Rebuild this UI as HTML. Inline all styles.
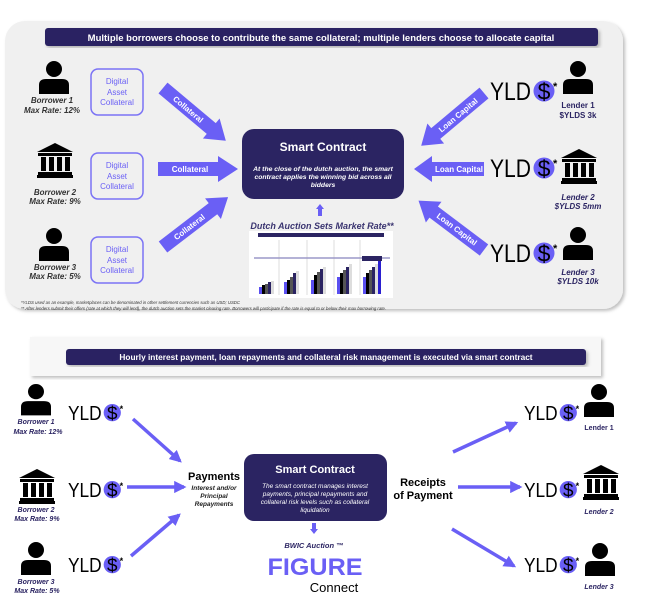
<!DOCTYPE html>
<html><head><meta charset="utf-8"><style>
html,body{margin:0;padding:0;background:#fff}
svg{display:block}
text{font-family:"Liberation Sans",sans-serif}
</style></head><body>
<svg width="659" height="595" viewBox="0 0 659 595" xmlns="http://www.w3.org/2000/svg">
<defs>
<filter id="sh" x="-5%" y="-5%" width="112%" height="115%"><feDropShadow dx="2" dy="2" stdDeviation="1.5" flood-color="#000" flood-opacity="0.25"/></filter>
<g id="person"><circle cx="15" cy="8" r="8" fill="#000"/><path d="M0,33 L0,24 Q0,18 7,18 L23,18 Q30,18 30,24 L30,33 Z" fill="#000"/></g>
<g id="bank"><polygon points="18,0 36,9 0,9" fill="#000"/><rect x="1" y="10" width="34" height="3" fill="#000"/><rect x="4" y="14" width="5" height="14" fill="#000"/><rect x="12" y="14" width="5" height="14" fill="#000"/><rect x="20" y="14" width="5" height="14" fill="#000"/><rect x="28" y="14" width="5" height="14" fill="#000"/><rect x="1" y="29" width="34" height="3" fill="#000"/><rect x="0" y="32" width="36" height="3" fill="#000"/></g>
<g id="yld"><text x="0" y="0" font-size="25" textLength="41" lengthAdjust="spacingAndGlyphs" fill="#000">YLD</text><circle cx="54" cy="-9" r="10.5" fill="#6a5ff5"/><text x="54" y="-0.5" font-size="23" text-anchor="middle" fill="#000">$</text><text x="63" y="-10" font-size="11" font-weight="bold" fill="#000">*</text></g>
<marker id="ah" viewBox="0 0 10 10" refX="8" refY="5" markerWidth="3.5" markerHeight="3.5" orient="auto"><path d="M0,0 L10,5 L0,10 Z" fill="#6a5ff5"/></marker>
</defs>

<!-- TOP PANEL -->
<rect x="5" y="21" width="618" height="288" rx="20" fill="#f0f0f0" filter="url(#sh)"/>
<rect x="45" y="28" width="553" height="18" rx="3" fill="#2b2462" filter="url(#sh)"/>
<text x="321" y="41" font-size="9.5" font-weight="bold" fill="#fff" text-anchor="middle">Multiple borrowers choose to contribute the same collateral; multiple lenders choose to allocate capital</text>

<use href="#person" x="39" y="61"/>
<text x="52" y="103" font-size="8" font-weight="bold" font-style="italic" fill="#333" text-anchor="middle">Borrower 1</text>
<text x="52" y="113" font-size="8" font-weight="bold" font-style="italic" fill="#333" text-anchor="middle">Max Rate: 12%</text>
<use href="#bank" x="37" y="143"/>
<text x="55" y="195" font-size="8" font-weight="bold" font-style="italic" fill="#333" text-anchor="middle">Borrower 2</text>
<text x="55" y="204" font-size="8" font-weight="bold" font-style="italic" fill="#333" text-anchor="middle">Max Rate: 9%</text>
<use href="#person" x="39" y="228"/>
<text x="55" y="270" font-size="8" font-weight="bold" font-style="italic" fill="#333" text-anchor="middle">Borrower 3</text>
<text x="55" y="279" font-size="8" font-weight="bold" font-style="italic" fill="#333" text-anchor="middle">Max Rate: 5%</text>

<g font-size="8" fill="#6a5ff5" text-anchor="middle">
<rect x="91" y="69" width="52" height="46" rx="7" fill="#f0f0f0" stroke="#7b73f5" stroke-width="1.5"/>
<text x="117" y="84">Digital</text><text x="117" y="95">Asset</text><text x="117" y="105">Collateral</text>
<rect x="91" y="153" width="52" height="46" rx="7" fill="#f0f0f0" stroke="#7b73f5" stroke-width="1.5"/>
<text x="117" y="168">Digital</text><text x="117" y="179">Asset</text><text x="117" y="189">Collateral</text>
<rect x="91" y="237" width="52" height="46" rx="7" fill="#f0f0f0" stroke="#7b73f5" stroke-width="1.5"/>
<text x="117" y="252">Digital</text><text x="117" y="263">Asset</text><text x="117" y="273">Collateral</text>
</g>

<g fill="#6a5ff5">
<g transform="translate(163,88) rotate(40)"><polygon points="0,-7 63,-7 63,-13 82,0 63,13 63,7 0,7"/><text x="33" y="3" font-size="8" font-weight="bold" fill="#fff" text-anchor="middle">Collateral</text></g>
<g transform="translate(158,169)"><polygon points="0,-7 60,-7 60,-13 80,0 60,13 60,7 0,7"/><text x="32" y="3" font-size="8" font-weight="bold" fill="#fff" text-anchor="middle">Collateral</text></g>
<g transform="translate(163,247) rotate(-37.5)"><polygon points="0,-7 63,-7 63,-13 82,0 63,13 63,7 0,7"/><text x="33" y="3" font-size="8" font-weight="bold" fill="#fff" text-anchor="middle">Collateral</text></g>
<g transform="translate(484,93) rotate(140)"><polygon points="0,-7 63,-7 63,-13 82,0 63,13 63,7 0,7"/></g>
<text transform="translate(458,115) rotate(-40)" x="0" y="3" font-size="8" font-weight="bold" fill="#fff" text-anchor="middle">Loan Capital</text>
<g transform="translate(484,169) rotate(180)"><polygon points="0,-7 52,-7 52,-13 70,0 52,13 52,7 0,7"/></g>
<text x="459" y="172" font-size="8" font-weight="bold" fill="#fff" text-anchor="middle">Loan Capital</text>
<g transform="translate(484,250) rotate(217)"><polygon points="0,-7 63,-7 63,-13 82,0 63,13 63,7 0,7"/></g>
<text transform="translate(457,229) rotate(37)" x="0" y="3" font-size="8" font-weight="bold" fill="#fff" text-anchor="middle">Loan Capital</text>
</g>

<rect x="242" y="129" width="162" height="70" rx="12" fill="#2b2462"/>
<text x="323" y="151" font-size="12" font-weight="bold" fill="#fff" text-anchor="middle">Smart Contract</text>
<g font-size="6.8" font-weight="bold" font-style="italic" fill="#fff" text-anchor="middle">
<text x="323" y="171">At the close of the dutch auction, the smart</text>
<text x="323" y="179">contract applies  the winning  bid across all</text>
<text x="323" y="187">bidders</text></g>
<polygon points="320,204 324,209 322,209 322,216 318,216 318,209 316,209" fill="#6a5ff5"/>
<text x="322" y="229" font-size="9" font-weight="bold" font-style="italic" fill="#3a3470" text-anchor="middle">Dutch Auction Sets Market Rate**</text>
<rect x="249" y="231" width="144" height="67" fill="#fff"/>
<rect x="258" y="233" width="126" height="4" fill="#2b2462"/>
<g stroke="#bbb" stroke-width="0.5"><line x1="279" y1="240" x2="279" y2="295"/><line x1="307" y1="240" x2="307" y2="295"/><line x1="334" y1="240" x2="334" y2="295"/><line x1="360" y1="240" x2="360" y2="295"/></g>
<line x1="254" y1="258" x2="390" y2="258" stroke="#9c98c8" stroke-width="1.5"/>
<g>
<rect x="259" y="287" width="3" height="7" fill="#5a4ff0"/><rect x="262" y="285" width="3" height="9" fill="#000"/><rect x="265" y="284" width="3" height="10" fill="#555"/><rect x="268" y="282" width="3" height="12" fill="#2b2462"/><rect x="271" y="281" width="3" height="13" fill="#ddd"/>
<rect x="284" y="282" width="3" height="12" fill="#5a4ff0"/><rect x="287" y="280" width="3" height="14" fill="#000"/><rect x="290" y="277" width="3" height="17" fill="#555"/><rect x="293" y="273" width="3" height="21" fill="#2b2462"/><rect x="296" y="271" width="3" height="23" fill="#ddd"/>
<rect x="311" y="280" width="3" height="14" fill="#5a4ff0"/><rect x="314" y="275" width="3" height="19" fill="#000"/><rect x="317" y="272" width="3" height="22" fill="#555"/><rect x="320" y="269" width="3" height="25" fill="#2b2462"/><rect x="323" y="267" width="3" height="27" fill="#ddd"/>
<rect x="337" y="277" width="3" height="17" fill="#5a4ff0"/><rect x="340" y="273" width="3" height="21" fill="#000"/><rect x="343" y="270" width="3" height="24" fill="#555"/><rect x="346" y="267" width="3" height="27" fill="#2b2462"/><rect x="349" y="264" width="3" height="30" fill="#ddd"/>
<rect x="363" y="277" width="3" height="17" fill="#5a4ff0"/><rect x="366" y="273" width="3" height="21" fill="#000"/><rect x="369" y="270" width="3" height="24" fill="#555"/><rect x="372" y="267" width="3" height="27" fill="#2b2462"/><rect x="375" y="264" width="3" height="30" fill="#ddd"/><rect x="378" y="258" width="3" height="36" fill="#2a1fd0"/>
<rect x="362" y="256" width="20" height="5" fill="#2b2462"/>
</g>
<text x="21" y="304" font-size="4.3" font-style="italic" fill="#333">*YLDS used as an example,  marketplaces  can be denominated  in other settlement  currencies such as USD; USDC</text>
<text x="21" y="310" font-size="4.3" font-style="italic" fill="#333">** After lenders submit their offers (rate at which they will lend), the dutch auction sets the market clearing rate. Borrowers will participate if the rate is equal to or below their max borrowing rate.</text>

<use href="#yld" x="490" y="100"/>
<use href="#person" x="563" y="61"/>
<text x="578" y="108" font-size="8" font-weight="bold" fill="#2b2462" text-anchor="middle">Lender 1</text>
<text x="578" y="118" font-size="8" font-weight="bold" fill="#2b2462" text-anchor="middle">$YLDS 3k</text>
<use href="#yld" x="490" y="177"/>
<use href="#bank" x="561" y="149"/>
<text x="578" y="200" font-size="8" font-weight="bold" font-style="italic" fill="#2b2462" text-anchor="middle">Lender 2</text>
<text x="578" y="209" font-size="8" font-weight="bold" font-style="italic" fill="#2b2462" text-anchor="middle">$YLDS 5mm</text>
<use href="#yld" x="490" y="262"/>
<use href="#person" x="563" y="227"/>
<text x="578" y="275" font-size="8" font-weight="bold" font-style="italic" fill="#2b2462" text-anchor="middle">Lender 3</text>
<text x="578" y="284" font-size="8" font-weight="bold" font-style="italic" fill="#2b2462" text-anchor="middle">$YLDS 10k</text>

<!-- BOTTOM -->
<rect x="30" y="337" width="571" height="39" fill="#f7f7f7" filter="url(#sh)"/>
<rect x="66" y="349" width="520" height="16" rx="3" fill="#2b2462" filter="url(#sh)"/>
<text x="326" y="360" font-size="8.3" font-weight="bold" fill="#fff" text-anchor="middle">Hourly interest payment, loan repayments and collateral risk management is executed via smart contract</text>

<g transform="translate(21,384) scale(1,0.95)"><use href="#person"/></g>
<text x="36" y="424" font-size="7" font-style="italic" font-weight="bold" fill="#2b2462" text-anchor="middle">Borrower 1</text>
<text x="38" y="434" font-size="7" font-style="italic" font-weight="bold" fill="#2b2462" text-anchor="middle">Max Rate: 12%</text>
<use href="#bank" x="19" y="469"/>
<text x="36" y="512" font-size="7" font-style="italic" font-weight="bold" fill="#2b2462" text-anchor="middle">Borrower 2</text>
<text x="37" y="521" font-size="7" font-style="italic" font-weight="bold" fill="#2b2462" text-anchor="middle">Max Rate: 9%</text>
<use href="#person" x="21" y="542"/>
<text x="36" y="584" font-size="7" font-style="italic" font-weight="bold" fill="#2b2462" text-anchor="middle">Borrower 3</text>
<text x="37" y="593" font-size="7" font-style="italic" font-weight="bold" fill="#2b2462" text-anchor="middle">Max Rate: 5%</text>

<g transform="translate(68,420) scale(0.82)"><use href="#yld"/></g>
<g transform="translate(68,497) scale(0.82)"><use href="#yld"/></g>
<g transform="translate(68,572) scale(0.82)"><use href="#yld"/></g>

<g stroke="#6a5ff5" stroke-width="3.5" marker-end="url(#ah)">
<line x1="133" y1="419" x2="180" y2="461"/>
<line x1="127" y1="487" x2="184" y2="487"/>
<line x1="131" y1="556" x2="179" y2="515"/>
<line x1="453" y1="452" x2="516" y2="423"/>
<line x1="458" y1="487" x2="520" y2="487"/>
<line x1="452" y1="529" x2="514" y2="566"/>
</g>

<text x="214" y="480" font-size="11" font-weight="bold" fill="#000" text-anchor="middle">Payments</text>
<g font-size="6.5" font-style="italic" font-weight="bold" fill="#222" text-anchor="middle">
<text x="214" y="490">Interest and/or</text><text x="214" y="498">Principal</text><text x="214" y="506">Repayments</text></g>

<rect x="244" y="454" width="143" height="67" rx="10" fill="#2b2462"/>
<text x="315" y="473" font-size="11" font-weight="bold" fill="#fff" text-anchor="middle">Smart Contract</text>
<g font-size="6.5" font-style="italic" fill="#fff" text-anchor="middle">
<text x="315" y="488">The smart contract manages  interest</text>
<text x="315" y="496">payments, principal  repayments and</text>
<text x="315" y="504">collateral risk levels  such as collateral</text>
<text x="315" y="512">liquidation</text></g>
<polygon points="312,523 316,523 316,529 318,529 314,534 310,529 312,529" fill="#6a5ff5"/>
<text x="314" y="548" font-size="7.5" font-style="italic" font-weight="bold" fill="#2b2462" text-anchor="middle">BWIC Auction ™</text>
<text x="315" y="575" font-size="24" font-weight="bold" fill="#6a5ff5" text-anchor="middle" textLength="95" lengthAdjust="spacingAndGlyphs">FIGURE</text>
<text x="334" y="592" font-size="13" fill="#000" text-anchor="middle">Connect</text>

<text x="423" y="486" font-size="11" font-weight="bold" fill="#000" text-anchor="middle">Receipts</text>
<text x="423" y="499" font-size="11" font-weight="bold" fill="#000" text-anchor="middle">of Payment</text>

<g transform="translate(524,420) scale(0.82)"><use href="#yld"/></g>
<g transform="translate(524,497) scale(0.82)"><use href="#yld"/></g>
<g transform="translate(524,572) scale(0.82)"><use href="#yld"/></g>
<use href="#person" x="584" y="384"/>
<text x="599" y="430" font-size="7" font-weight="bold" fill="#2b2462" text-anchor="middle">Lender 1</text>
<use href="#bank" x="583" y="465"/>
<text x="599" y="514" font-size="7" font-style="italic" font-weight="bold" fill="#2b2462" text-anchor="middle">Lender 2</text>
<use href="#person" x="585" y="543"/>
<text x="599" y="589" font-size="7" font-style="italic" font-weight="bold" fill="#2b2462" text-anchor="middle">Lender 3</text>
</svg>
</body></html>
